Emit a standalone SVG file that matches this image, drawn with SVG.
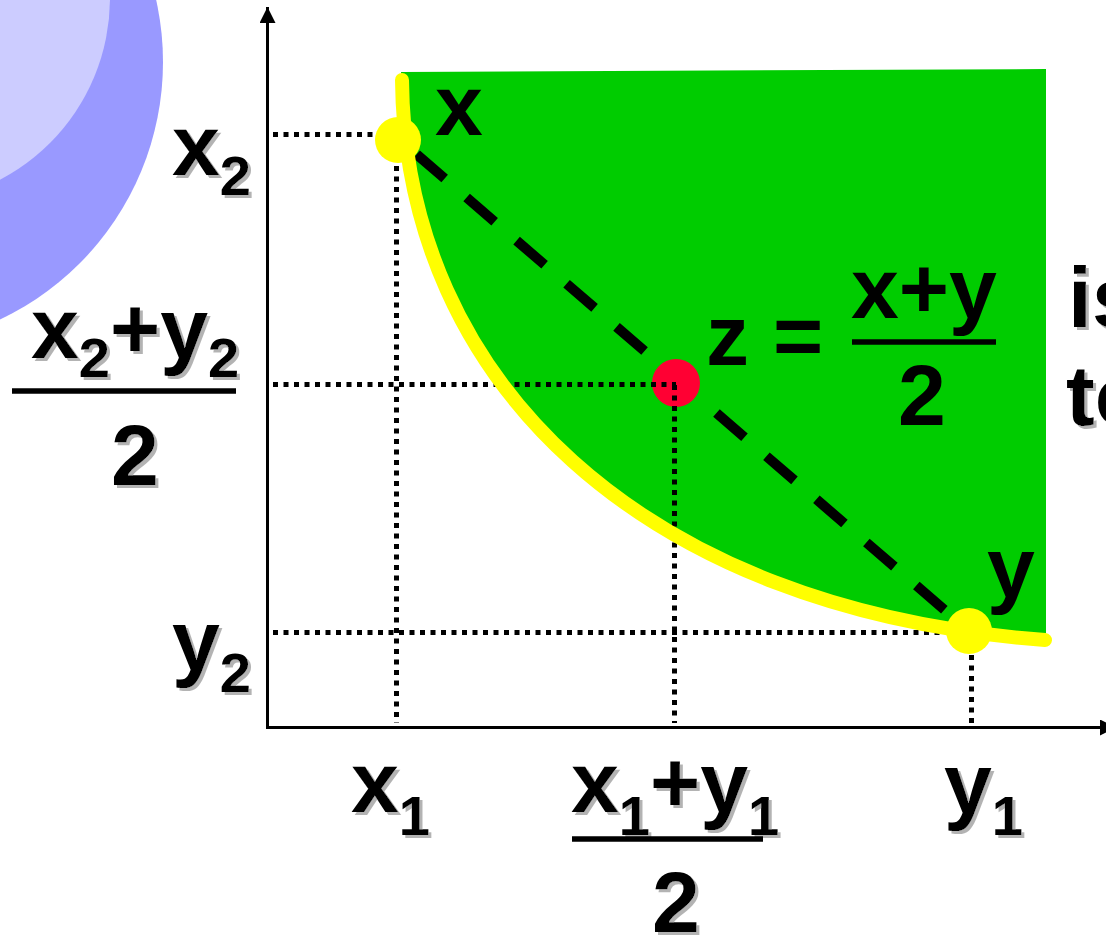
<svg xmlns="http://www.w3.org/2000/svg" width="1106" height="935" viewBox="0 0 1106 935">
<style>
text{font-family:"Liberation Sans",Arial,sans-serif;font-weight:bold;font-size:86px;fill:#000}
.sub{font-size:56px}
.shd{filter:url(#sh)}
.dot{stroke:#000;stroke-width:5;stroke-dasharray:5 5.5;fill:none}
.axis{stroke:#000;stroke-width:3;fill:none;marker-end:url(#arr)}
.bar{stroke:#000;stroke-width:5.5}
</style>
<defs>
<filter id="sh" x="-10%" y="-10%" width="130%" height="130%">
<feDropShadow dx="3" dy="3" stdDeviation="0" flood-color="#b3b3b3" flood-opacity="1"/>
</filter>
<marker id="arr" markerUnits="userSpaceOnUse" markerWidth="16" markerHeight="16" viewBox="0 0 16 16" refX="16" refY="8" orient="auto">
<path d="M0,0 L16,8 L0,16 Z" fill="#000"/>
</marker>
</defs>
<rect width="1106" height="935" fill="#fff"/>
<g id="deco">
<circle cx="-122" cy="62" r="285" fill="#9999ff"/>
<circle cx="-95" cy="-2" r="205" fill="#ccccff"/>
</g>
<g id="region">
<path d="M401,72 L1046,69 L1046,640 C640,610 405,380 402,80 Z" fill="#00cc00"/>
</g>
<g id="connectors">
<line x1="267.5" y1="727" x2="267.5" y2="7" class="axis"/>
<line x1="266" y1="727.5" x2="1116" y2="727.5" class="axis"/>
<line x1="400" y1="140" x2="969" y2="631" stroke="#000" stroke-width="10" stroke-dasharray="37 29" stroke-dashoffset="44"/>
</g>
<g id="point-z"><circle cx="676" cy="383" r="24" fill="#ff0033"/></g>
<g id="guides">
<line x1="273" y1="134.5" x2="398" y2="134.5" class="dot"/>
<line x1="273" y1="384.5" x2="676" y2="384.5" class="dot"/>
<line x1="273" y1="632.5" x2="969" y2="632.5" class="dot"/>
<line x1="396.5" y1="145" x2="396.5" y2="723" class="dot"/>
<line x1="674.5" y1="385" x2="674.5" y2="723" class="dot"/>
<line x1="971.5" y1="634" x2="971.5" y2="723" class="dot"/>
</g>
<g id="curve">
<path d="M402,80 C405,380 640,610 1045,640" fill="none" stroke="#ffff00" stroke-width="14" stroke-linecap="round"/>
</g>
<g id="point-x"><circle cx="398" cy="140" r="23" fill="#ffff00"/></g>
<g id="point-y"><circle cx="969" cy="631" r="23" fill="#ffff00"/></g>
<g id="label-x"><text x="435" y="135">x</text></g>
<g id="label-y"><text x="987" y="597">y</text></g>
<g id="label-z">
<text x="706" y="365">z =</text>
<text x="851" y="318">x+y</text>
<line x1="852" y1="342" x2="996" y2="342" class="bar"/>
<text x="922" y="425" text-anchor="middle">2</text>
</g>
<g id="label-x2" class="shd"><text x="172" y="175">x<tspan class="sub" dy="20">2</tspan></text></g>
<g id="label-mid2">
<text class="shd" x="31" y="358">x<tspan class="sub" dy="19">2</tspan><tspan dy="-19">+y</tspan><tspan class="sub" dy="19">2</tspan></text>
<line x1="12" y1="391" x2="236" y2="391" class="bar"/>
<text class="shd" x="135" y="485" text-anchor="middle">2</text>
</g>
<g id="label-y2" class="shd"><text x="172" y="670">y<tspan class="sub" dy="22">2</tspan></text></g>
<g id="label-x1" class="shd"><text x="351" y="812">x<tspan class="sub" dy="23">1</tspan></text></g>
<g id="label-mid1">
<text class="shd" x="571" y="812">x<tspan class="sub" dy="23">1</tspan><tspan dy="-23">+y</tspan><tspan class="sub" dy="23">1</tspan></text>
<line x1="572" y1="839" x2="763" y2="839" class="bar"/>
<text class="shd" x="676" y="932" text-anchor="middle">2</text>
</g>
<g id="label-y1" class="shd"><text x="944" y="813">y<tspan class="sub" dy="22">1</tspan></text></g>
<g id="label-side" class="shd">
<text x="1068" y="327">is</text>
<text x="1066" y="425">to</text>
</g>
</svg>
